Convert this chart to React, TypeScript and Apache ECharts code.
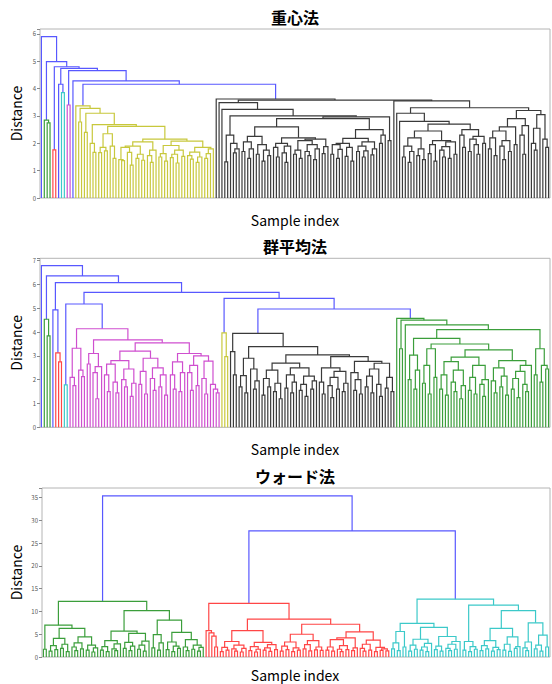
import React, { useEffect, useRef } from "react";
import * as echarts from "echarts";

// Dendrograms: each panel is given by the merge height between every pair of
// neighbouring leaves (178 samples -> 177 heights).

// ---- 重心法 (centroid) ----
const centroidHead = [5.9, 2.85, 2.75, 4.99, 1.76, 4.8, 4.16, 3.85, 4.74, 3.4, 4.66, 4.28];
const centroidYellow = [
  3.37, 2.78, 3.28, 2.4, 3.1, 2.0, 1.67, 2.68,
  1.66, 1.85, 1.72, 2.35, 1.9, 1.45,
  2.62,
  1.4, 1.37, 1.85, 1.67, 1.2, 1.9, 1.45, 1.6, 1.38, 2.05, 1.55, 1.3, 1.75,
  2.15,
  1.5, 1.62, 1.35, 1.92, 1.48, 1.6, 1.28, 1.75, 1.52, 2.08, 1.55, 1.42, 1.68, 1.3, 1.5, 1.85, 1.45, 1.62, 1.8,
];
const centroidJoin = [4.16];
const centroidBlack = [
  3.62,
  3.49, 3.24, 1.32, 2.3, 2.0, 1.65, 1.8, 3.0,
  1.7, 2.05, 1.45, 1.8, 2.25, 1.6, 1.95, 1.35, 1.75, 1.55,
  2.6,
  1.85, 1.5, 2.0, 1.65, 1.3, 1.9, 2.2, 1.6, 1.75, 1.45, 2.1, 1.7, 1.55, 1.95, 1.4, 1.8, 2.15, 1.62, 1.88,
  2.9,
  1.6, 1.95, 1.45, 1.78, 2.0, 1.52, 1.85, 1.35, 2.18, 1.7, 1.9, 1.5, 1.72, 2.05, 1.58, 1.8,
  2.5, 2.0, 2.3, 2.97, 2.1,
  3.58,
  3.55, 3.1, 2.8,
  1.5, 1.9, 1.3, 1.7, 2.2, 1.55, 1.8, 1.4, 2.45, 1.62, 1.95, 1.35, 2.1, 1.75, 1.5, 1.88, 1.45, 2.05, 1.6,
  2.7,
  2.3, 1.85, 2.5, 1.7, 2.15, 1.95, 1.6, 2.25, 2.0,
  3.3,
  1.8, 2.2, 1.55, 2.45, 1.9, 1.4, 2.1, 1.7, 2.6, 1.95, 2.9, 2.3, 1.6, 2.65, 3.2, 2.0, 1.75, 2.55, 3.05, 2.15, 1.85,
];

// ---- 群平均法 (average) ----
const averageHead = [6.79, 4.54, 3.84, 6.36, 4.93, 3.13, 2.75, 6.08, 1.78, 5.18];
const averageMagenta = [
  2.1, 1.75, 3.32, 2.4, 2.13, 4.14, 2.66, 3.1, 2.3, 1.2, 2.55, 3.67,
  2.2, 1.5, 2.65, 1.9, 1.45, 2.8, 2.0, 1.7, 2.45, 1.3, 1.85,
  3.2,
  1.8, 2.35, 1.4, 2.9, 2.05, 1.55, 2.5, 1.7, 2.2, 1.35,
  3.55,
  2.2, 1.6, 2.75, 1.5, 2.3,
  3.1,
  2.3, 1.55, 2.6, 1.75, 3.0, 2.05, 1.4, 2.78, 1.8, 1.6, 1.45,
];
const averageMid = [5.67, 3.97, 2.97, 5.42];
const averageBlack = [
  3.18, 2.2, 3.95,
  1.7, 2.17, 1.45, 2.9, 2.45, 1.6, 1.95,
  3.39,
  1.35, 2.05, 1.7, 2.4, 1.5, 1.85, 1.2, 2.7, 1.65, 2.2, 1.45, 1.9, 2.5, 1.55, 1.8, 1.3, 2.15, 1.6, 1.95,
  3.04,
  1.9, 1.4, 2.5, 1.75, 1.25, 2.1, 1.6, 2.35, 1.5, 1.85,
  2.97,
  2.3, 1.55, 2.0, 1.4, 2.77, 1.7, 2.15, 1.45, 2.45, 1.8, 1.3, 2.69, 1.65, 2.1, 1.5,
];
const averageJoin = [4.97];
const averageGreen = [
  4.58, 3.3, 4.5, 4.3,
  2.0, 3.03, 1.6, 2.4,
  3.74,
  1.85, 2.6, 1.4, 3.3, 2.1,
  3.5,
  1.6, 2.2, 1.35, 2.76, 1.9, 1.5, 2.4, 1.2, 1.75, 2.95, 1.55, 2.1, 1.4, 2.6, 1.8, 1.3, 2.0,
  3.25,
  1.95, 1.45, 2.5, 1.7, 2.15, 1.35, 2.8, 1.6, 2.05, 1.25, 2.35, 1.8, 1.5, 2.6,
  4.1,
  2.2, 3.3, 1.9, 2.6, 2.45,
];

// ---- ウォード法 (Ward) ----
const wardGreen = [
  1.7, 7.0,
  1.3, 2.5, 1.6, 4.1, 1.9, 2.8, 1.2,
  6.3,
  2.2, 1.4, 3.1, 1.8, 4.4, 1.5, 2.6, 1.1, 2.0,
  12.2,
  1.5, 2.3, 1.2, 3.6, 1.8, 1.4, 2.9,
  5.7,
  1.9, 3.2, 1.4, 2.4, 5.2, 1.7, 2.6, 1.3, 3.5,
  10.2,
  2.0, 4.9, 1.5, 3.1,
  8.1,
  1.6, 3.3, 1.2, 2.4, 1.9, 5.4, 2.2, 1.4, 3.8, 1.7, 2.6, 1.3, 2.1,
];
const wardTopJoin = [35.4];
const wardRed = [
  5.8, 5.3, 4.6, 2.2,
  11.8,
  1.2, 2.1, 1.5, 3.4, 1.8, 1.3, 2.6, 1.1, 1.9,
  5.8,
  1.4, 2.3, 1.1, 1.7, 3.2, 1.5, 2.0, 1.25, 2.7, 1.6,
  8.3,
  1.3, 2.4, 1.6, 3.3, 1.2, 2.0, 1.5, 5.0, 1.8, 2.7, 1.35, 3.6, 1.55, 2.2, 1.45,
  7.2,
  1.5, 2.2, 1.3, 3.8, 1.7, 1.2, 2.5, 1.6, 4.2, 1.4, 2.0,
  5.5,
  1.9, 1.3, 2.8, 1.5, 3.7, 1.2, 2.1, 1.45, 1.8, 1.35,
];
const wardSecondJoin = [27.7];
const wardCyan = [
  1.8, 3.1, 1.4, 5.6, 2.2,
  7.4,
  1.3, 2.6, 1.7, 3.9, 1.5, 2.2, 1.2, 3.0,
  6.5,
  1.6, 2.4, 1.3, 4.5, 1.9, 1.4, 2.8, 1.7, 3.4,
  12.7,
  1.5, 3.4, 1.2, 2.3, 1.7,
  11.4,
  1.4, 2.5, 1.8, 3.6, 1.3, 2.1, 1.6, 6.3, 1.5, 2.8, 1.25, 4.4, 1.9, 2.3,
  10.2,
  2.0, 1.4, 3.3, 7.5, 1.8, 2.6, 1.3, 4.8, 2.2,
];

const titles = ["重心法", "群平均法", "ウォード法"];
const yMaxes = [6.18, 7.1, 37.13];
const yIntervals = [1, 1, 5];

const centroidGaps = [...centroidHead, ...centroidYellow, ...centroidJoin, ...centroidBlack];
const averageGaps = [...averageHead, ...averageMagenta, ...averageMid, ...averageBlack, ...averageJoin, ...averageGreen];
const wardGaps = [...wardGreen, ...wardTopJoin, ...wardRed, ...wardSecondJoin, ...wardCyan];

const PALETTE = ["#3b9e3b", "#ff4646", "#3cc9c9", "#cf4fcf", "#c8c83c", "#3a3a3a"];
const ABOVE = "#5858ff";

type TreeNode = { x: number; h: number; l?: TreeNode; r?: TreeNode };

function dendrogramLines(gaps: number[]) {
  const threshold = 0.7 * Math.max(...gaps);
  const build = (lo: number, hi: number): TreeNode => {
    if (lo === hi) return { x: lo * 10 + 5, h: 0 };
    let k = lo;
    for (let i = lo; i < hi; i++) if (gaps[i] > gaps[k]) k = i;
    const l = build(lo, k);
    const r = build(k + 1, hi);
    return { x: (l.x + r.x) / 2, h: gaps[k], l, r };
  };
  const root = build(0, gaps.length);
  let ci = 0;
  const out: any[] = [];
  const walk = (n: TreeNode, color: string | null) => {
    if (!n.l || !n.r) return;
    let c: string;
    let pass: string | null;
    if (n.h >= threshold) {
      c = ABOVE;
      pass = null;
    } else {
      c = color || PALETTE[ci++ % PALETTE.length];
      pass = c;
    }
    out.push({
      coords: [
        [n.l.x, n.l.h],
        [n.l.x, n.h],
        [n.r.x, n.h],
        [n.r.x, n.r.h],
      ],
      lineStyle: { color: c },
    });
    walk(n.l, pass);
    walk(n.r, pass);
  };
  walk(root, null);
  return out;
}

const FONT = "'Noto Sans CJK JP', 'Noto Sans', sans-serif";

export default function App() {
  const ref = useRef<HTMLDivElement>(null);
  useEffect(() => {
    if (!ref.current) return;
    const chart = echarts.init(ref.current, undefined, { renderer: "svg" });
    const gapsList = [centroidGaps, averageGaps, wardGaps];
    const grids = [
      { left: 40, top: 29, width: 510, height: 169 },
      { left: 40, top: 258.3, width: 510, height: 169 },
      { left: 42, top: 488, width: 508, height: 169 },
    ];
    const labelY = [220, 449, 675];
    const leafCount = centroidGaps.length + 1;
    const option: any = {
      animation: false,
      grid: grids.map((g) => ({
        ...g,
        show: true,
        borderColor: "#b4b4b4",
        borderWidth: 1,
        backgroundColor: "transparent",
      })),
      xAxis: grids.map((_, i) => ({
        type: "value",
        gridIndex: i,
        min: 0,
        max: leafCount * 10,
        show: false,
      })),
      yAxis: grids.map((_, i) => ({
        type: "value",
        gridIndex: i,
        min: 0,
        max: yMaxes[i],
        interval: yIntervals[i],
        axisLine: { show: false },
        axisTick: { show: true, length: 3, lineStyle: { color: "#888" } },
        axisLabel: {
          fontSize: 6,
          color: "#555",
          margin: 4,
          fontFamily: FONT,
          formatter: (v: number) => {
            const q = v / yIntervals[i];
            return Math.abs(q - Math.round(q)) < 1e-6 ? String(Math.round(v)) : "";
          },
        },
        splitLine: { show: false },
      })),
      series: gapsList.map((gaps, i) => ({
        type: "lines",
        coordinateSystem: "cartesian2d",
        xAxisIndex: i,
        yAxisIndex: i,
        polyline: true,
        silent: true,
        lineStyle: { width: 1.2, opacity: 1 },
        data: dendrogramLines(gaps),
      })),
      graphic: grids.flatMap((g, i) => [
        {
          type: "text",
          x: 295,
          y: g.top - 12,
          style: {
            text: titles[i],
            fontSize: 16,
            fontWeight: "bold",
            fontFamily: FONT,
            fill: "#000",
            align: "center",
            verticalAlign: "middle",
          },
        },
        {
          type: "text",
          x: 295,
          y: labelY[i],
          style: {
            text: "Sample index",
            fontSize: 14,
            fontFamily: FONT,
            fill: "#000",
            align: "center",
            verticalAlign: "middle",
          },
        },
        {
          type: "text",
          x: 16,
          y: g.top + g.height / 2,
          rotation: Math.PI / 2,
          style: {
            text: "Distance",
            fontSize: 14,
            fontFamily: FONT,
            fill: "#000",
            align: "center",
            verticalAlign: "middle",
          },
        },
      ]),
    };
    chart.setOption(option);
    return () => chart.dispose();
  }, []);
  return (
    <div
      ref={ref}
      style={{ position: "fixed", left: 0, top: 0, width: 552, height: 684, background: "#fff" }}
    />
  );
}
